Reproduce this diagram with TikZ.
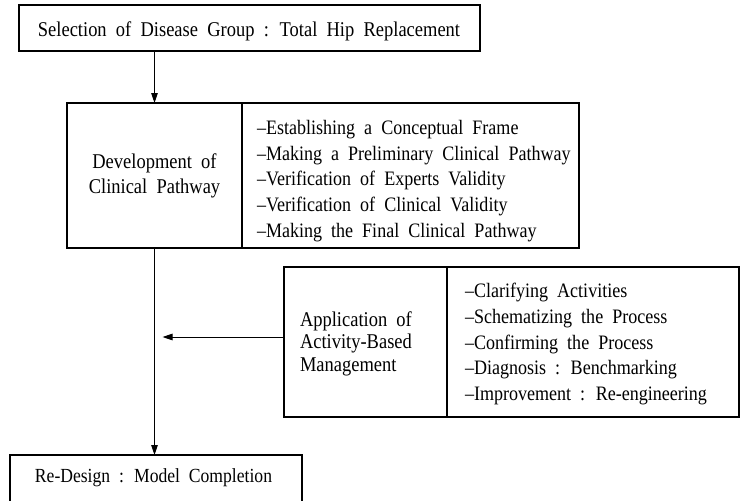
\documentclass[tikz,border=0pt]{standalone}
\usepackage{fontspec}
\setmainfont{Liberation Serif}[FakeStretch=0.88, WordSpace=2]
\usetikzlibrary{arrows.meta}

\begin{document}
\begin{tikzpicture}[x=1pt, y=-1pt,
  cell/.style={draw, line width=1.3pt, inner sep=0pt, outer sep=0pt},
  txt/.style={inner sep=0pt, outer sep=0pt},
  steps/.style={txt, align=left, anchor=west,
    font=\fontsize{20.5}{25.6}\selectfont},
  flow/.style={line width=0.9pt, -{Triangle[length=10pt, width=6.5pt]}}
]
\useasboundingbox (0,0) rectangle (740,501);
\clip (0,0) rectangle (740,501);

% Step 1: disease group
\node[cell, minimum width=461pt, minimum height=46pt] (b1) at (249.5,28) {};
\node[txt, anchor=base, font=\fontsize{21}{25}\selectfont] (t1) at (249,36.7)
  {Selection of Disease Group : Total Hip Replacement};

% Step 2: clinical pathway development
\node[cell, minimum width=175pt, minimum height=145pt] (b2l) at (154.5,175.5) {};
\node[cell, minimum width=337pt, minimum height=145pt] (b2r) at (410.5,175.5) {};
\node[txt, align=center, font=\fontsize{21}{25}\selectfont] (t2l) at (154.5,175.5)
  {Development of\\Clinical Pathway};
\node[steps] (t2r) at (257,181)
  {--Establishing a Conceptual Frame\\
   --Making a Preliminary Clinical Pathway\\
   --Verification of Experts Validity\\
   --Verification of Clinical Validity\\
   --Making the Final Clinical Pathway};

% Step 3: activity-based management
\node[cell, minimum width=163pt, minimum height=150pt] (b3l) at (365.5,342) {};
\node[cell, minimum width=292pt, minimum height=150pt] (b3r) at (593,342) {};
\node[txt, align=left, anchor=west, font=\fontsize{21}{22.5}\selectfont] (t3l)
  at (300,343.5)
  {Application of\\Activity-Based\\Management};
\node[steps] (t3r) at (465,344)
  {--Clarifying Activities\\
   --Schematizing the Process\\
   --Confirming the Process\\
   --Diagnosis : Benchmarking\\
   --Improvement : Re-engineering};

% Step 4: redesign
\node[cell, minimum width=292pt, minimum height=48pt] (b4) at (156,479) {};
\node[txt, anchor=base, font=\fontsize{20}{24}\selectfont] (t4) at (153.5,482)
  {Re-Design : Model Completion};

% Connectors
\coordinate (join) at ([xshift=8pt]b3l.west -| b2l.south);
\draw[flow] (b1.south -| b2l.north) -- (b2l.north);
\draw[flow] (b2l.south) -- (b4.north -| b2l.south);
\draw[flow] ([yshift=5pt]b3l.west) -- ([yshift=5pt]join);
\end{tikzpicture}
\end{document}
